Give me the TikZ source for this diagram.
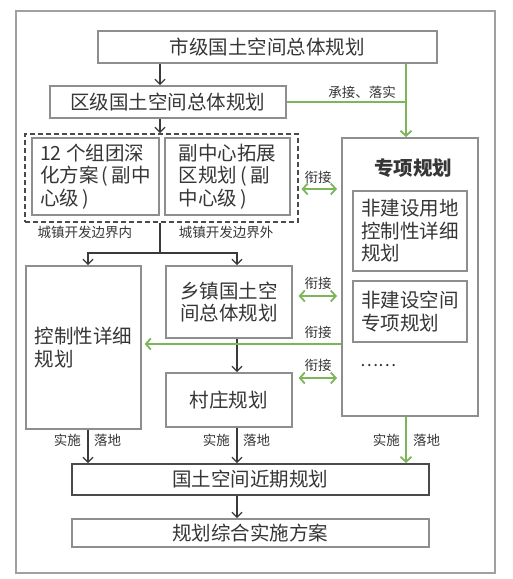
\documentclass[tikz,border=0pt]{standalone}
\usepackage{fontspec}
\setmainfont{Noto Sans CJK SC}
\usetikzlibrary{arrows.meta,calc}
\definecolor{bx}{HTML}{8E8E8E}
\definecolor{bxd}{HTML}{4A4A4A}
\definecolor{tx}{HTML}{363636}
\definecolor{gr}{HTML}{7DB55A}
\definecolor{ar}{HTML}{3A3A3A}
\definecolor{fr}{HTML}{A0A0A0}
\begin{document}
\begin{tikzpicture}[x=1pt,y=-1pt,
  box/.style={draw=bx,line width=1.6pt,inner sep=0pt,anchor=north west,text=tx,
    font=\fontsize{19.5}{22.5}\selectfont},
  arr/.style={draw=ar,line width=1.1pt,-{Straight Barb[length=5pt,width=10pt]}},
  garr/.style={draw=gr,line width=1.8pt,-{Straight Barb[length=5pt,width=11pt]}},
  gdbl/.style={draw=gr,line width=1.8pt,{Straight Barb[length=5pt,width=11pt]}-{Straight Barb[length=5pt,width=11pt]}},
  lbl/.style={text=tx,font=\fontsize{13.5}{15}\selectfont,inner sep=0pt}
]
\useasboundingbox (0,0) rectangle (513,579);
\fill[white] (0,0) rectangle (513,579);
\draw[draw=fr,line width=1.5pt] (16,11) rectangle (495,573);

% coordinates for connector x / y positions
\coordinate (c88) at (88,0);
\coordinate (c160) at (160,0);
\coordinate (c237) at (237,0);
\coordinate (c406) at (406,0);
\coordinate (y189) at (0,189);
\coordinate (y296) at (0,296);
\coordinate (y344) at (0,344);
\coordinate (y378) at (0,378);

% boxes
\node[box,minimum width=339pt,minimum height=32pt] (b1) at (97,30) {市级国土空间总体规划};
\node[box,minimum width=236pt,minimum height=32pt] (b2) at (49,85) {区级国土空间总体规划};
\node[draw=bxd,line width=1.5pt,dash pattern=on 5pt off 3pt,anchor=north west,inner sep=0pt,
  minimum width=273pt,minimum height=88pt] (dash) at (24,133) {};
\node[box,minimum width=127pt,minimum height=77pt,align=left] (g1) at (31,137)
  {12 个组团深\\化方案\,(\,副中\\心级\,)\hspace*{56pt}};
\node[box,minimum width=125pt,minimum height=77pt,align=left] (g2) at (164,137)
  {副中心拓展\\区规划\,(\,副\\中心级\,)};
\node[box,minimum width=115pt,minimum height=163pt,align=left] (kong) at (25,265)
  {控制性详细\\规划\hspace*{57pt}};
\node[box,minimum width=126pt,minimum height=72pt,align=left] (xz) at (165,265)
  {乡镇国土空\\间总体规划};
\node[box,minimum width=126pt,minimum height=54pt] (cz) at (165,372) {村庄规划};
\node[box,minimum width=136pt,minimum height=278pt] (zx) at (341,137) {};
\node[text=tx,inner sep=0pt,font=\fontsize{19.5}{22}\selectfont\bfseries] (zxt) at (413,168) {专项规划};
\node[box,minimum width=114pt,minimum height=80pt,align=left] (f1) at (352,190)
  {非建设用地\\控制性详细\\规划};
\node[box,minimum width=114pt,minimum height=61pt,align=left] (f2) at (352,280)
  {非建设空间\\专项规划};
\node[text=tx,inner sep=0pt,anchor=west,font=\fontsize{17}{17}\selectfont] (dots) at (360,366) {……};
\node[box,draw=bxd,minimum width=357pt,minimum height=31pt] (jq) at (71,463) {国土空间近期规划};
\node[box,minimum width=357pt,minimum height=28pt] (fa) at (71,518) {规划综合实施方案};

% black connectors
\draw[arr] (b1.south -| c160) -- (b2.north -| c160);
\draw[arr] (b2.south -| c160) -- (dash.north -| c160);
\coordinate (sp) at (160,253);
\draw[draw=ar,line width=1.1pt] (dash.south -| c160) -- (sp);
\draw[arr] (sp) -| (kong.north -| c88);
\draw[arr] (sp) -| (xz.north -| c237);
\draw[arr] (xz.south -| c237) -- (cz.north -| c237);
\draw[arr] (kong.south -| c88) -- (jq.north -| c88);
\draw[arr] (cz.south -| c237) -- (jq.north -| c237);
\draw[arr] (jq.south -| c237) -- (fa.north -| c237);

% green connectors
\draw[garr] (b1.south -| c406) -- (zx.north -| c406);
\draw[draw=gr,line width=1.8pt] (b2.east) -- (b2.east -| c406);
\draw[gdbl,shorten <=3pt,shorten >=4pt] (dash.east |- y189) -- (zx.west |- y189);
\draw[gdbl,shorten <=6pt,shorten >=4pt] (xz.east |- y296) -- (zx.west |- y296);
\draw[gdbl,shorten <=6pt,shorten >=4pt] (cz.east |- y378) -- (zx.west |- y378);
\draw[garr,shorten >=3pt] (zx.west |- y344) -- (kong.east |- y344);
\draw[garr] (zx.south -| c406) -- (jq.north -| c406);

% labels
\node[lbl] (l1) at (362,92) {承接、落实};
\node[lbl] (l2) at (85,232) {城镇开发边界内};
\node[lbl] (l3) at (226,232) {城镇开发边界外};
\node[lbl] (l4) at (318,177) {衔接};
\node[lbl] (l5) at (318,283) {衔接};
\node[lbl] (l6) at (318,332) {衔接};
\node[lbl] (l7) at (318,365) {衔接};
\node[lbl,anchor=east] (s1) at (81,440) {实施};
\node[lbl,anchor=west] (d1) at (94,440) {落地};
\node[lbl,anchor=east] (s2) at (230,440) {实施};
\node[lbl,anchor=west] (d2) at (243,440) {落地};
\node[lbl,anchor=east] (s3) at (400,440) {实施};
\node[lbl,anchor=west] (d3) at (413,440) {落地};
\end{tikzpicture}
\end{document}
